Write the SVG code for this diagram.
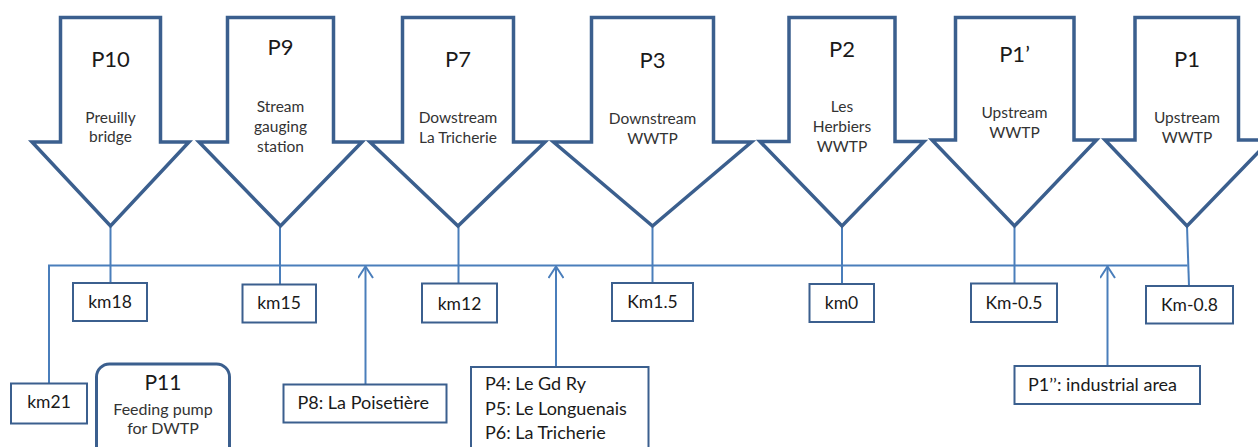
<svg xmlns="http://www.w3.org/2000/svg" width="1258" height="447" viewBox="0 0 1258 447">
<style>
text{font-family:Lato,"Liberation Sans",sans-serif;fill:#1a1a1a}
.arr{fill:#fff;stroke:#3b5f8e;stroke-width:3.5;stroke-linejoin:miter}
.t{font-size:22px;text-anchor:middle}
.s{font-size:15.5px;text-anchor:middle;fill:#333}
.box{fill:#fff;stroke:#3b5f8e;stroke-width:2}
.bt{font-size:17.5px;text-anchor:middle}
.lt{font-size:18px}
.con{fill:none;stroke:#4a7ebb;stroke-width:2}
</style>
<defs>
<marker id="open" viewBox="0 0 16 16" refX="14" refY="8" markerWidth="16" markerHeight="16" markerUnits="userSpaceOnUse" orient="auto">
<path d="M2.5,0.5 L14,8 L2.5,15.5" fill="none" stroke="#4a7ebb" stroke-width="2"/>
</marker>
</defs>
<g id="connectors">
<path class="con" d="M49,383 V265.5 H1187.5"/>
<path class="con" d="M110.5,226 V283"/>
<path class="con" d="M280,226 V284"/>
<path class="con" d="M458.5,226 V283"/>
<path class="con" d="M652.5,226 V283"/>
<path class="con" d="M842,226 V284"/>
<path class="con" d="M1014.5,226 V283"/>
<path class="con" d="M1187,226 L1189,286"/>
<path class="con" d="M365.5,384 V266.5" marker-end="url(#open)"/>
<path class="con" d="M556,367 V266.5" marker-end="url(#open)"/>
<path class="con" d="M1107.5,366 V266.5" marker-end="url(#open)"/>
</g>
<g id="P10">
<path class="arr" d="M60.5,17.5 H160.5 V142 H189 L110.5,226 L32,142 H60.5 Z"/>
<text class="t" x="110.5" y="66.5">P10</text>
<text class="s" x="110.5" y="122.5">Preuilly</text>
<text class="s" x="110.5" y="142">bridge</text>
</g>
<g id="P9">
<path class="arr" d="M227.5,17.5 H333.5 V142 H362 L280.5,226 L199,142 H227.5 Z"/>
<text class="t" x="280.5" y="55">P9</text>
<text class="s" x="280.5" y="111.5">Stream</text>
<text class="s" x="280.5" y="131.5">gauging</text>
<text class="s" x="280.5" y="151.5">station</text>
</g>
<g id="P7">
<path class="arr" d="M402.5,17.5 H513.5 V142 H545 L458,226 L370,142 H402.5 Z"/>
<text class="t" x="458" y="66.5">P7</text>
<text class="s" x="458" y="123">Dowstream</text>
<text class="s" x="458" y="142.5">La Tricherie</text>
</g>
<g id="P3">
<path class="arr" d="M591.5,17.5 H713.5 V142 H751.5 L652.5,226 L553.5,142 H591.5 Z"/>
<text class="t" x="652.5" y="68">P3</text>
<text class="s" x="652.5" y="124">Downstream</text>
<text class="s" x="652.5" y="143.5">WWTP</text>
</g>
<g id="P2">
<path class="arr" d="M789,17.5 H895 V141.5 H924 L842,226 L760,141.5 H789 Z"/>
<text class="t" x="842" y="56.5">P2</text>
<text class="s" x="842" y="111.5">Les</text>
<text class="s" x="842" y="131.5">Herbiers</text>
<text class="s" x="842" y="152">WWTP</text>
</g>
<g id="P1prime">
<path class="arr" d="M955.5,17.5 H1074 V140 H1096.5 L1014.5,226 L932,140 H955.5 Z"/>
<text class="t" x="1014.5" y="62">P1’</text>
<text class="s" x="1014.5" y="118">Upstream</text>
<text class="s" x="1014.5" y="138">WWTP</text>
</g>
<g id="P1">
<path class="arr" d="M1135,17.5 H1238.5 V140 H1270 L1187,226 L1105,140 H1135 Z"/>
<text class="t" x="1187" y="66.5">P1</text>
<text class="s" x="1187" y="123">Upstream</text>
<text class="s" x="1187" y="142.5">WWTP</text>
</g>
<g id="km18"><rect class="box" x="73" y="283" width="74" height="38"/><text class="bt" x="110" y="307.5">km18</text></g>
<g id="km15"><rect class="box" x="242.5" y="284.5" width="73.5" height="38"/><text class="bt" x="279" y="309">km15</text></g>
<g id="km12"><rect class="box" x="422" y="283.5" width="75" height="39"/><text class="bt" x="459.5" y="309.5">km12</text></g>
<g id="km1_5"><rect class="box" x="612" y="283" width="81" height="38"/><text class="bt" x="652.5" y="307.5">Km1.5</text></g>
<g id="km0"><rect class="box" x="809.5" y="284" width="64.5" height="38"/><text class="bt" x="841.5" y="309">km0</text></g>
<g id="km-0_5"><rect class="box" x="971" y="283.5" width="86" height="38.5"/><text class="bt" x="1014" y="309">Km-0.5</text></g>
<g id="km-0_8"><rect class="box" x="1146" y="286" width="87" height="37.5"/><text class="bt" x="1189.5" y="310.5">Km-0.8</text></g>
<g id="km21"><rect class="box" x="11" y="383.5" width="76" height="40"/><text class="bt" x="49" y="408">km21</text></g>
<g id="P11">
<rect x="96.5" y="364" width="133" height="100" rx="13" fill="#fff" stroke="#3b5f8e" stroke-width="3"/>
<text class="t" x="163" y="390" style="font-size:21px">P11</text>
<text class="s" x="163" y="415" style="font-size:16px">Feeding pump</text>
<text class="s" x="163" y="433.5" style="font-size:16px">for DWTP</text>
</g>
<g id="P8"><rect class="box" x="283.5" y="384.5" width="163" height="38"/><text class="lt" x="297.5" y="408.5">P8: La Poisetière</text></g>
<g id="P4_P6">
<rect class="box" x="471" y="367" width="177.5" height="95"/>
<text class="lt" x="485" y="390">P4: Le Gd Ry</text>
<text class="lt" x="485" y="415">P5: Le Longuenais</text>
<text class="lt" x="485" y="438.5">P6: La Tricherie</text>
</g>
<g id="P1pp"><rect class="box" x="1014.5" y="366" width="185.5" height="38"/><text class="lt" x="1028" y="390.5">P1’’:  industrial area</text></g>
</svg>
